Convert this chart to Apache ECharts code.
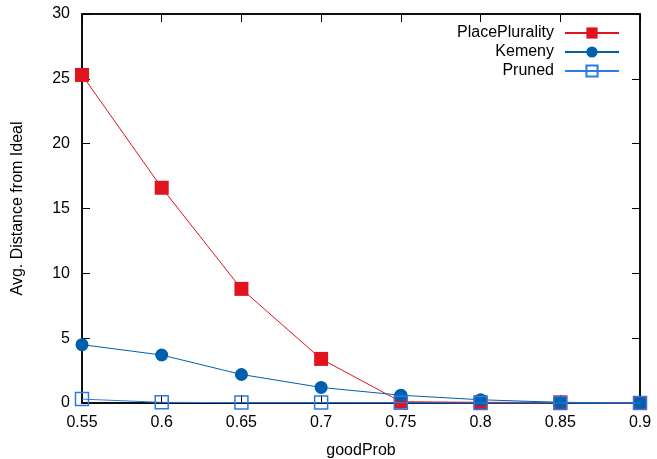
<!DOCTYPE html>
<html>
<head>
<meta charset="utf-8">
<script src="https://cdn.jsdelivr.net/npm/echarts@6/dist/echarts.min.js"></script>
<style>
    html, body { margin: 0; padding: 0; background: #fff; }
    #chart { width: 657px; height: 459px; }
</style>
</head>
<body>
<div id="chart"></div>
<script>
// x values (goodProb)
var goodProb = [0.55, 0.6, 0.65, 0.7, 0.75, 0.8, 0.85, 0.9];
// series values
var placePlurality = [25.3, 16.6, 8.8, 3.4, 0.1, 0.05, 0.05, 0];
var kemeny = [4.5, 3.7, 2.2, 1.2, 0.6, 0.25, 0.05, 0];
var pruned = [0.3, 0.05, 0.03, 0.03, 0.02, 0, 0, 0];

function pairs(vals) {
    var out = [];
    for (var i = 0; i < goodProb.length; i++) {
        out.push([goodProb[i], vals[i]]);
    }
    return out;
}

var fontName = 'Liberation Sans, Arial, sans-serif';
var frame = {color: '#000', width: 1.5};

var myChart = echarts.init(document.getElementById('chart'));

var option = {
    animation: false,
    textStyle: {fontFamily: fontName},
    grid: {
        left: 82, right: 17, top: 14, bottom: 56,
        outerBoundsMode: 'none',
        show: true, borderColor: '#000', borderWidth: 1.5
    },
    legend: {
        orient: 'vertical',
        right: 32,
        top: 20,
        align: 'right',
        itemWidth: 54,
        itemHeight: 14,
        itemGap: 3,
        textStyle: {fontSize: 16, color: '#000', fontFamily: fontName, padding: [0, 6, 0, 0]},
        data: ['PlacePlurality', 'Kemeny', 'Pruned']
    },
    xAxis: [{
        type: 'value',
        min: 0.55,
        max: 0.9,
        interval: 0.05,
        name: 'goodProb',
        nameLocation: 'middle',
        nameGap: 40,
        nameTextStyle: {fontSize: 16, color: '#000'},
        axisLine: {show: true, onZero: false, lineStyle: frame},
        axisTick: {show: true, inside: true, length: 8, lineStyle: {color: '#000'}},
        axisLabel: {
            color: '#000', fontSize: 16, margin: 12,
            formatter: function (v) { return String(Math.round(v * 100) / 100); }
        },
        splitLine: {show: false}
    }, {
        // mirror axis on top
        type: 'value',
        position: 'top',
        min: 0.55,
        max: 0.9,
        interval: 0.05,
        axisLine: {show: true, onZero: false, lineStyle: frame},
        axisTick: {show: true, inside: true, length: 8, lineStyle: {color: '#000'}},
        axisLabel: {show: false},
        splitLine: {show: false}
    }],
    yAxis: [{
        type: 'value',
        min: 0,
        max: 30,
        interval: 5,
        name: 'Avg. Distance from Ideal',
        nameLocation: 'middle',
        nameGap: 56,
        nameTextStyle: {fontSize: 16, color: '#000'},
        axisLine: {show: true, onZero: false, lineStyle: frame},
        axisTick: {show: true, inside: true, length: 8, lineStyle: {color: '#000'}},
        axisLabel: {color: '#000', fontSize: 16, margin: 12},
        splitLine: {show: false}
    }, {
        // mirror axis on right
        type: 'value',
        position: 'right',
        min: 0,
        max: 30,
        interval: 5,
        axisLine: {show: true, onZero: false, lineStyle: frame},
        axisTick: {show: true, inside: true, length: 8, lineStyle: {color: '#000'}},
        axisLabel: {show: false},
        splitLine: {show: false}
    }],
    series: [{
        name: 'PlacePlurality',
        type: 'line',
        data: pairs(placePlurality),
        symbol: 'rect',
        symbolSize: 14,
        clip: false,
        lineStyle: {color: '#e0141e', width: 1},
        itemStyle: {color: '#e0141e'},
        z: 2
    }, {
        name: 'Kemeny',
        type: 'line',
        data: pairs(kemeny),
        symbol: 'circle',
        symbolSize: 13,
        clip: false,
        lineStyle: {color: '#0060ad', width: 1},
        itemStyle: {color: '#0060ad'},
        z: 3
    }, {
        name: 'Pruned',
        type: 'line',
        data: pairs(pruned),
        symbol: 'rect',
        symbolSize: 13,
        clip: false,
        lineStyle: {color: '#2b7be6', width: 1},
        itemStyle: {color: 'rgba(255,255,255,0)', borderColor: '#2b7be6', borderWidth: 1.5},
        z: 4
    }]
};
myChart.setOption(option);
</script>
</body>
</html>
